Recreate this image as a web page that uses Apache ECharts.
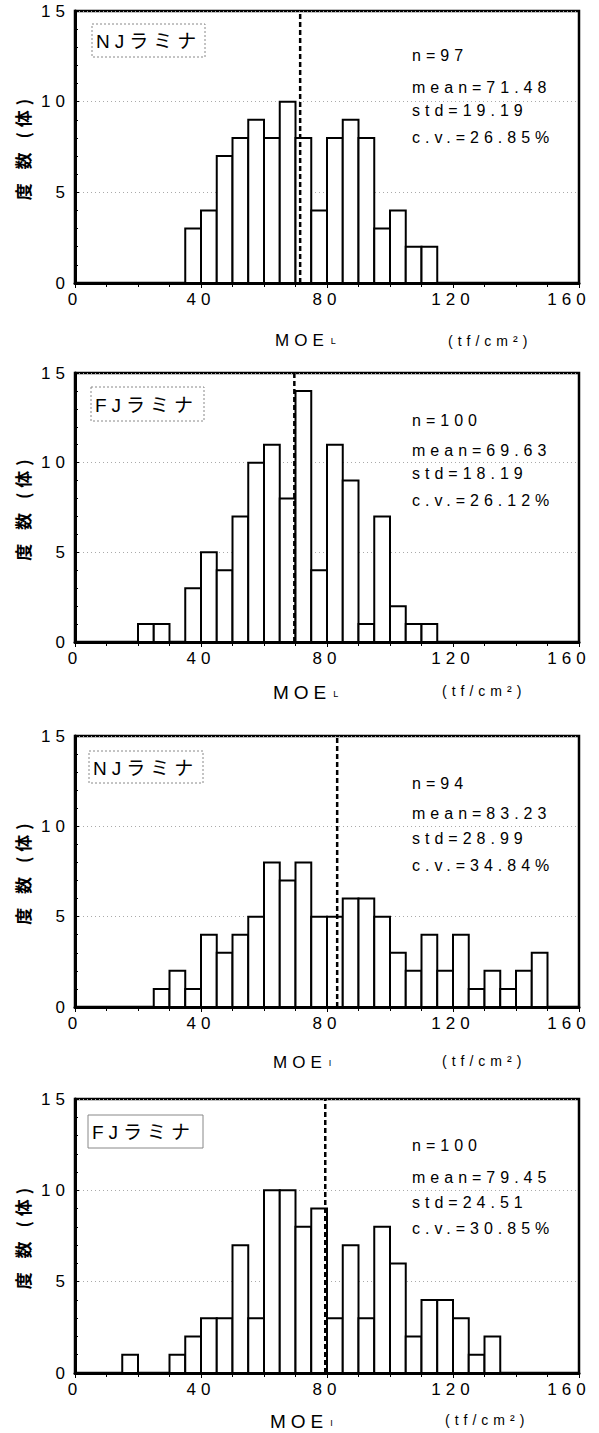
<!DOCTYPE html>
<html>
<head>
<meta charset="utf-8">
<script src="https://cdn.jsdelivr.net/npm/echarts@6/dist/echarts.min.js"></script>
<style>
  html, body { margin: 0; padding: 0; background: #fff; }
  #chart { width: 599px; height: 1433px; }
  /* the scanned figure uses widely spaced type */
  #chart svg text { letter-spacing: 5px; }
</style>
</head>
<body>
<div id="chart"></div>
<script>
// ヒストグラム 4枚 (NJ/FJ ラミナ, MOE_L / MOE_I)
const binWidth = 5;

const njLStart = 35;
const njLCounts = [3, 4, 7, 8, 9, 8, 10, 8, 4, 8, 9, 8, 3, 4, 2, 2];
const fjLStart = 20;
const fjLCounts = [1, 1, 0, 3, 5, 4, 7, 10, 11, 8, 14, 4, 11, 9, 1, 7, 2, 1, 1];
const njIStart = 25;
const njICounts = [1, 2, 1, 4, 3, 4, 5, 8, 7, 8, 5, 5, 6, 6, 5, 3, 2, 4, 2, 4, 1, 2, 1, 2, 3];
const fjIStart = 15;
const fjICounts = [1, 0, 0, 1, 2, 3, 3, 7, 3, 10, 10, 8, 9, 3, 7, 3, 8, 6, 2, 4, 4, 3, 1, 2];

const means = [71.48, 69.63, 83.23, 79.45];
const sampleNames = ['NJラミナ', 'FJラミナ', 'NJラミナ', 'FJラミナ'];
const statLines = [
  ['n=97', 'mean=71.48', 'std=19.19', 'c.v.=26.85%'],
  ['n=100', 'mean=69.63', 'std=18.19', 'c.v.=26.12%'],
  ['n=94', 'mean=83.23', 'std=28.99', 'c.v.=34.84%'],
  ['n=100', 'mean=79.45', 'std=24.51', 'c.v.=30.85%']
];
const xMax = 160;
const xTitle = 'MOE';
const xSubscripts = ['L', 'L', 'I', 'I'];
const unitText = '(tf/cm²)';
const yName = '度 数 (体)';

// layout of the four panels (pixels)
const panels = [
  { top: 11, height: 272, box: [92, 24, 113, 33], statY: [55, 87, 110, 137], titleX: 275, titleY: 340, titleSize: 17, unitX: 448, unitY: 341, dashedBox: true },
  { top: 373, height: 269, box: [91, 387, 113, 34], statY: [420, 450, 473, 500], titleX: 273, titleY: 692, titleSize: 19, unitX: 442, unitY: 691, dashedBox: true },
  { top: 736, height: 271, box: [89, 751, 114, 32], statY: [783, 813, 838, 865], titleX: 273, titleY: 1062, titleSize: 17, unitX: 442, unitY: 1061, dashedBox: true },
  { top: 1099, height: 274, box: [88, 1115, 115, 33], statY: [1145, 1177, 1202, 1228], titleX: 270, titleY: 1421, titleSize: 19, unitX: 445, unitY: 1420, dashedBox: false }
];

const latin = 'Liberation Sans, Noto Sans CJK JP';
const cjk = 'Noto Sans CJK JP';

function toBins(start, counts) {
  return counts.map((c, i) => [start + i * binWidth, c]);
}
const binSets = [
  toBins(njLStart, njLCounts),
  toBins(fjLStart, fjLCounts),
  toBins(njIStart, njICounts),
  toBins(fjIStart, fjICounts)
];

function renderBin(params, api) {
  const start = api.value(0);
  const count = api.value(1);
  if (!count) return;
  const p0 = api.coord([start, count]);
  const p1 = api.coord([start + binWidth, 0]);
  return {
    type: 'rect',
    shape: { x: p0[0], y: p0[1], width: p1[0] - p0[0], height: p1[1] - p0[1] },
    style: { fill: '#fff', stroke: '#000', lineWidth: 2 }
  };
}

// last tick label sits a little to the left in the scan, keep it inside the page
function xLabel(v) {
  return v === xMax ? '{last|' + v + '}' : String(v);
}

let chart = echarts.init(document.getElementById('chart'), null, { renderer: 'svg' });

let grid = [], xAxis = [], yAxis = [], series = [], graphic = [];

panels.forEach((p, i) => {
  grid.push({
    left: 75, width: 504, top: p.top, height: p.height,
    show: true, borderColor: '#000', borderWidth: 2.5, backgroundColor: 'transparent'
  });
  xAxis.push({
    type: 'value', gridIndex: i, min: 0, max: xMax, interval: 40,
    axisLine: { show: true, onZero: false, lineStyle: { color: '#000', width: 3 } },
    axisTick: { show: true, length: 5, lineStyle: { color: '#000', width: 1 } },
    minorTick: { show: true, splitNumber: 4, length: 4, lineStyle: { color: '#000', width: 1 } },
    splitLine: { show: false },
    axisLabel: {
      color: '#000', fontSize: 17, fontFamily: latin, margin: 8,
      formatter: xLabel,
      rich: { last: { color: '#000', fontSize: 17, fontFamily: latin, padding: [0, 20, 0, 0] } }
    }
  });
  yAxis.push({
    type: 'value', gridIndex: i, min: 0, max: 15, interval: 5,
    name: yName, nameLocation: 'middle', nameGap: 44,
    nameTextStyle: { color: '#000', fontSize: 17, fontWeight: 'bold', fontFamily: cjk },
    axisLine: { show: true, lineStyle: { color: '#000', width: 3 } },
    axisTick: { show: true, inside: true, length: 4, lineStyle: { color: '#000', width: 1 } },
    minorTick: { show: true, splitNumber: 5, length: 3, lineStyle: { color: '#000', width: 1 } },
    splitLine: { show: true, lineStyle: { color: '#aaa', width: 1, type: [1, 3] } },
    axisLabel: { color: '#000', fontSize: 17, fontFamily: latin, margin: 5 }
  });
  series.push({
    type: 'custom', xAxisIndex: i, yAxisIndex: i,
    renderItem: renderBin, data: binSets[i], z: 2, silent: true
  });
  series.push({
    type: 'line', xAxisIndex: i, yAxisIndex: i,
    data: [[means[i], 0], [means[i], 15]],
    symbol: 'none', z: 3, silent: true,
    lineStyle: { color: '#000', width: 2.5, type: [5, 3] }
  });

  // sample name box
  graphic.push({
    type: 'rect', silent: true, z: 10,
    shape: { x: p.box[0], y: p.box[1], width: p.box[2], height: p.box[3] },
    style: { fill: '#fff', stroke: '#888', lineWidth: 1, lineDash: p.dashedBox ? [2, 2] : null }
  });
  graphic.push({
    type: 'text', silent: true, z: 11,
    x: p.box[0] + 4, y: p.box[1] + p.box[3] / 2 + 1,
    style: { text: sampleNames[i], fill: '#000', font: '19px ' + latin, textVerticalAlign: 'middle' }
  });
  // statistics
  statLines[i].forEach((t, k) => {
    graphic.push({
      type: 'text', silent: true, z: 11,
      x: 412, y: p.statY[k],
      style: { text: t, fill: '#000', font: '16px Liberation Sans', textVerticalAlign: 'middle' }
    });
  });
  // x axis title, subscript drawn as its own small text after the spaced "MOE"
  graphic.push({
    type: 'text', silent: true, z: 11,
    x: p.titleX, y: p.titleY,
    style: { text: xTitle, fill: '#000', font: p.titleSize + 'px Liberation Sans', textVerticalAlign: 'middle' }
  });
  graphic.push({
    type: 'text', silent: true, z: 11,
    x: p.titleX + p.titleSize * 2.28 + 17, y: p.titleY + p.titleSize * 0.35,
    style: { text: xSubscripts[i], fill: '#000', font: '9px Liberation Sans', textVerticalAlign: 'bottom' }
  });
  graphic.push({
    type: 'text', silent: true, z: 11,
    x: p.unitX, y: p.unitY,
    style: { text: unitText, fill: '#000', font: '14px Liberation Sans', textVerticalAlign: 'middle' }
  });
});

let option = {
  backgroundColor: '#fff',
  animation: false,
  grid: grid,
  xAxis: xAxis,
  yAxis: yAxis,
  series: series,
  graphic: graphic
};
chart.setOption(option);
</script>
</body>
</html>
